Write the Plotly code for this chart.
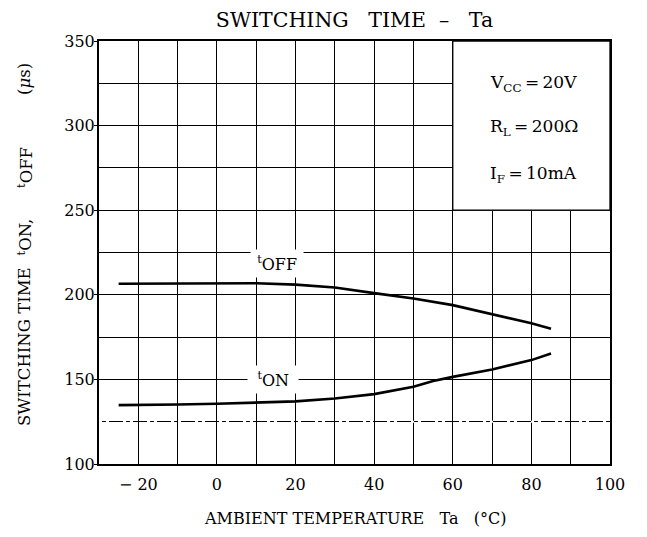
import plotly.graph_objects as go

# Data
temp_off = [-25, -10, 0, 10, 20, 30, 40, 50, 60, 70, 80, 85]
t_off = [206.5, 206.8, 207.0, 206.8, 206.0, 204.3, 201.0, 197.8, 193.9, 188.5, 183.2, 180.0]
temp_on = [-25, -20, -10, 0, 10, 20, 30, 40, 50, 55, 60, 70, 80, 85]
t_on = [134.8, 134.8, 135.2, 135.6, 136.2, 137.0, 138.7, 141.3, 145.6, 149.0, 151.5, 155.9, 161.4, 165.3]

x_tickvals = [-20, 0, 20, 40, 60, 80, 100]
x_ticktext = ["\u2212 20", "0", "20", "40", "60", "80", "100"]
y_tickvals = [100, 150, 200, 250, 300, 350]

conditions = ["V<sub>CC</sub>\u2009=\u200920V", "R<sub>L</sub>\u2009=\u2009200\u03a9", "I<sub>F</sub>\u2009=\u200910mA"]
cond_y = [324.8, 298.8, 271.0]

# y-axis title pieces (rotated) and their vertical positions (paper fraction)
ytitle_parts = ["SWITCHING TIME", "<sup>t</sup>ON,", "<sup>t</sup>OFF", "(<i>\u03bc</i>s)"]
ytitle_pos = [0.2766, 0.5355, 0.6998, 0.9102]

FONT = "DejaVu Serif, serif"

fig = go.Figure()
fig.add_trace(go.Scatter(x=temp_off, y=t_off, mode="lines",
                         line=dict(color="black", width=2.6), showlegend=False))
fig.add_trace(go.Scatter(x=temp_on, y=t_on, mode="lines",
                         line=dict(color="black", width=2.6), showlegend=False))

# White box for the conditions (covers grid)
fig.add_shape(type="rect", xref="x", yref="y", x0=60, x1=100, y0=250, y1=350,
              fillcolor="white", line=dict(color="black", width=1.3), layer="between")
# dash-dot look of the 125 grid line
fig.add_shape(type="line", xref="x", yref="y", x0=-30, x1=100, y0=125, y1=125,
              line=dict(color="white", width=2, dash="3px,4px,3px,14px"), layer="between")

for txt, yv in zip(conditions, cond_y):
    fig.add_annotation(x=69, y=yv, xref="x", yref="y", text=txt, showarrow=False,
                       xanchor="left", yanchor="middle",
                       font=dict(family=FONT, size=17, color="black"))

fig.add_annotation(x=15.3, y=218.7, xref="x", yref="y", text="\u2009<sup>t</sup>OFF\u2009",
                   showarrow=False, bgcolor="white", borderpad=3,
                   xanchor="center", yanchor="middle",
                   font=dict(family=FONT, size=16, color="black"))
fig.add_annotation(x=14.2, y=150, xref="x", yref="y", text="\u2009\u2009<sup>t</sup>ON\u2009\u2009",
                   showarrow=False, bgcolor="white", borderpad=3,
                   xanchor="center", yanchor="middle",
                   font=dict(family=FONT, size=16, color="black"))

# Axis titles
for txt, yp in zip(ytitle_parts, ytitle_pos):
    fig.add_annotation(x=-0.1448, y=yp, xref="paper", yref="paper", text=txt,
                       textangle=-90, showarrow=False,
                       xanchor="center", yanchor="middle",
                       font=dict(family=FONT, size=16.5, color="black"))
fig.add_annotation(x=0.5, y=-0.130, xref="paper", yref="paper",
                   text="AMBIENT TEMPERATURE   Ta   (\u00b0C)",
                   showarrow=False, xanchor="center", yanchor="middle",
                   font=dict(family=FONT, size=16, color="black"))

W, H = 631, 521
fig.update_layout(
    width=W, height=H,
    margin=dict(l=91, r=29, t=33, b=65),
    paper_bgcolor="white", plot_bgcolor="white",
    title=dict(text="SWITCHING   TIME  \u2013   Ta", x=0.5, xref="paper", xanchor="center",
               y=1 - 11.5 / H, yanchor="middle", yref="container",
               font=dict(family=FONT, size=20.5, color="black")),
    font=dict(family=FONT, color="black"),
)

fig.update_xaxes(range=[-30, 100], tickvals=x_tickvals, ticktext=x_ticktext,
                 showgrid=True, gridcolor="black", gridwidth=1,
                 minor=dict(dtick=10, tick0=0, showgrid=True, gridcolor="black", gridwidth=1),
                 showline=True, linecolor="black", linewidth=2, mirror=True,
                 ticks="", ticklabelstandoff=5,
                 tickfont=dict(family=FONT, size=16, color="black"),
                 zeroline=False, fixedrange=True)
fig.update_yaxes(range=[100, 350], tickvals=y_tickvals,
                 showgrid=True, gridcolor="black", gridwidth=1.3,
                 minor=dict(dtick=25, tick0=100, showgrid=True, gridcolor="black", gridwidth=1),
                 showline=True, linecolor="black", linewidth=2, mirror=True,
                 ticks="outside", ticklen=3, tickcolor="black", ticklabelstandoff=-4,
                 tickfont=dict(family=FONT, size=16, color="black"),
                 zeroline=False, fixedrange=True)

fig.write_html("out.html")
